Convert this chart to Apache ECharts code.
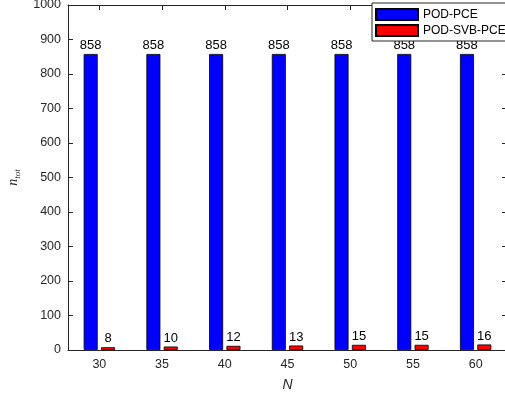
<!DOCTYPE html>
<html>
<head>
<meta charset="utf-8">
<script src="https://cdn.jsdelivr.net/npm/echarts@6/dist/echarts.min.js"></script>
<style>html,body{margin:0;padding:0;background:#fff}#c{width:505px;height:396px}</style>
</head>
<body>
<div id="c"></div>
<script>
var categories = ['30', '35', '40', '45', '50', '55', '60'];
var podPce = [858, 858, 858, 858, 858, 858, 858];
var podSvbPce = [8, 10, 12, 13, 15, 15, 16];
var seriesNames = ['POD-PCE', 'POD-SVB-PCE'];

var FONT = '"Liberation Sans", Arial, Helvetica, sans-serif';
var AX = '#262626';
var chart = echarts.init(document.getElementById('c'), null, {renderer: 'canvas'});
var labelStyle = {show: true, position: 'top', distance: 2, color: '#000', fontSize: 13, fontFamily: FONT};
chart.setOption({
  animation: false,
  backgroundColor: '#fff',
  grid: {left: 68, right: -2, top: 5, bottom: 46, containLabel: false, outerBoundsMode: 'none'},
  legend: {
    orient: 'vertical', left: 372, top: 3,
    padding: [5, 8, 4, 3], itemGap: 3, itemWidth: 42, itemHeight: 11,
    backgroundColor: '#fff', borderColor: AX, borderWidth: 1, borderRadius: 0,
    textStyle: {color: '#000', fontSize: 12, fontFamily: FONT},
    data: [{name: seriesNames[0], icon: 'rect'}, {name: seriesNames[1], icon: 'rect'}]
  },
  xAxis: [{
    type: 'category', data: categories, position: 'bottom',
    name: 'N', nameLocation: 'middle', nameGap: 28,
    nameTextStyle: {fontStyle: 'italic', fontSize: 14, color: AX, fontFamily: FONT},
    axisLine: {onZero: false, lineStyle: {color: AX, width: 1}},
    axisTick: {inside: true, alignWithLabel: true, length: 5, lineStyle: {color: AX}},
    axisLabel: {color: AX, fontSize: 12.5, fontFamily: FONT, margin: 8},
    splitLine: {show: false}
  }, {
    type: 'category', data: categories, position: 'top',
    axisLine: {onZero: false, lineStyle: {color: AX, width: 1}},
    axisTick: {show: true, inside: true, alignWithLabel: true, length: 5, lineStyle: {color: AX, width: 1}},
    axisLabel: {show: false}
  }],
  yAxis: [{
    type: 'value', min: 0, max: 1000, interval: 100, position: 'left',
    name: '{n|n}{s|tot}', nameLocation: 'middle', nameGap: 34, nameRotate: 90,
    nameTextStyle: {
      color: AX,
      rich: {
        n: {fontFamily: '"Liberation Serif", "DejaVu Serif", serif', fontStyle: 'italic', fontSize: 14, color: AX, lineHeight: 18, verticalAlign: 'middle'},
        s: {fontFamily: '"Liberation Serif", "DejaVu Serif", serif', fontStyle: 'italic', fontSize: 9, color: AX, lineHeight: 18, verticalAlign: 'bottom', padding: [6, 0, 0, 0]}
      }
    },
    axisLine: {show: true, onZero: false, lineStyle: {color: AX, width: 1}},
    axisTick: {show: true, inside: true, length: 5, lineStyle: {color: AX}},
    axisLabel: {color: AX, fontSize: 12.5, fontFamily: FONT, margin: 7, formatter: function (v) { return String(v); }},
    splitLine: {show: false}
  }, {
    type: 'value', min: 0, max: 1000, interval: 100, position: 'right',
    axisLine: {show: true, onZero: false, lineStyle: {color: AX, width: 1}},
    axisTick: {show: true, inside: true, length: 5, lineStyle: {color: AX}},
    axisLabel: {show: false},
    splitLine: {show: false}
  }],
  series: [{
    name: seriesNames[0], type: 'bar', data: podPce, barWidth: 14, barGap: '24%',
    itemStyle: {color: '#0000FF', borderColor: '#000', borderWidth: 0.8},
    label: labelStyle
  }, {
    name: seriesNames[1], type: 'bar', data: podSvbPce, barWidth: 14, barGap: '24%',
    itemStyle: {color: '#FF0000', borderColor: '#000', borderWidth: 0.8},
    label: labelStyle
  }]
});
</script>
</body>
</html>
